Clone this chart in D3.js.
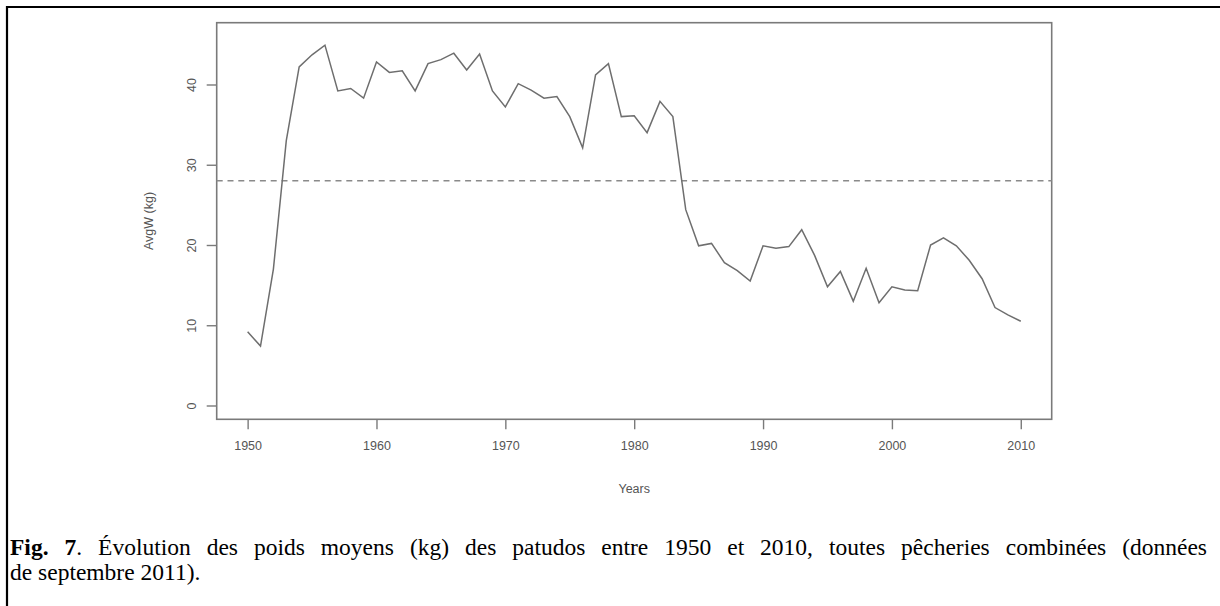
<!DOCTYPE html>
<html>
<head>
<meta charset="utf-8">
<script src="https://cdn.jsdelivr.net/npm/d3@7"></script>
<style>
  body { margin: 0; background: #fff; }
  svg { display: block; }
</style>
</head>
<body>
<div id="chart"></div>
<script>
let width = 1220, // page width
    height = 606; // page height

// plot box in pixels
const plotLeft = 216.7, plotRight = 1051.7,
      plotTop = 22.7, plotBottom = 419.3;

// data
const years = [1950, 1951, 1952, 1953, 1954, 1955, 1956, 1957, 1958, 1959,
               1960, 1961, 1962, 1963, 1964, 1965, 1966, 1967, 1968, 1969,
               1970, 1971, 1972, 1973, 1974, 1975, 1976, 1977, 1978, 1979,
               1980, 1981, 1982, 1983, 1984, 1985, 1986, 1987, 1988, 1989,
               1990, 1991, 1992, 1993, 1994, 1995, 1996, 1997, 1998, 1999,
               2000, 2001, 2002, 2003, 2004, 2005, 2006, 2007, 2008, 2009,
               2010];
const avgW = [9.2, 7.4, 17.0, 33.0, 42.2, 43.7, 44.9, 39.2, 39.5, 38.3,
              42.8, 41.5, 41.7, 39.2, 42.6, 43.1, 43.9, 41.8, 43.8, 39.2,
              37.2, 40.1, 39.3, 38.3, 38.5, 36.0, 32.1, 41.2, 42.6, 36.0,
              36.1, 34.0, 37.9, 36.0, 24.4, 19.9, 20.2, 17.8, 16.8, 15.5,
              19.9, 19.6, 19.8, 21.9, 18.7, 14.8, 16.7, 13.0, 17.1, 12.8,
              14.8, 14.4, 14.3, 20.0, 20.9, 19.9, 18.1, 15.8, 12.2, 11.3,
              10.5];
const meanLine = 28; // dashed reference level
const xTicks = [1950, 1960, 1970, 1980, 1990, 2000, 2010];
const yTicks = [0, 10, 20, 30, 40];
const xLabel = 'Years',
      yLabel = 'AvgW (kg)';
const captionBold = 'Fig. 7',
      captionLine1 = '. Évolution des poids moyens (kg) des patudos entre 1950 et 2010, toutes pêcheries combinées (données',
      captionLine2 = 'de septembre 2011).';

let svg = d3.select('#chart')
  .append('svg')
  .attr('width', width)
  .attr('height', height);

// frame around the figure (right and bottom are cut off)
svg.append('path')
  .attr('d', 'M7,' + height + 'V7H' + width)
  .attr('fill', 'none')
  .attr('stroke', '#000')
  .attr('stroke-width', 2.2);

let x = d3.scaleLinear()
  .domain([1947.6, 2012.4])
  .range([plotLeft, plotRight]);

let y = d3.scaleLinear()
  .domain([-1.72, 47.7])
  .range([plotBottom, plotTop]);

const axisColor = '#7a7a7a',
      textColor = '#555';

// x axis
let xAxis = svg.append('g')
  .attr('transform', 'translate(0,' + plotBottom + ')')
  .call(d3.axisBottom(x).tickValues(xTicks).tickFormat(d3.format('d')).tickSize(10).tickPadding(12));

// y axis
let yAxis = svg.append('g')
  .attr('transform', 'translate(' + plotLeft + ',0)')
  .call(d3.axisLeft(y).tickValues(yTicks).tickSize(10).tickPadding(0));

[xAxis, yAxis].forEach(function(g){
  g.select('.domain').remove();
  g.selectAll('line').attr('stroke', axisColor).attr('stroke-width', 1.4);
  g.selectAll('text')
    .attr('fill', textColor)
    .style('font-family', '"Liberation Sans", Arial, sans-serif')
    .style('font-size', '12.5px');
});

// rotate y labels like R's default
yAxis.selectAll('.tick text')
  .attr('x', null).attr('dy', null)
  .attr('text-anchor', 'middle')
  .attr('transform', 'translate(-25,0) rotate(-90)')
  .attr('dy', '0.35em');

// plot box
svg.append('rect')
  .attr('x', plotLeft)
  .attr('y', plotTop)
  .attr('width', plotRight - plotLeft)
  .attr('height', plotBottom - plotTop)
  .attr('fill', 'none')
  .attr('stroke', axisColor)
  .attr('stroke-width', 1.6);

// dashed reference line
svg.append('line')
  .attr('x1', plotLeft)
  .attr('x2', plotRight)
  .attr('y1', y(meanLine))
  .attr('y2', y(meanLine))
  .attr('stroke', '#8a8a8a')
  .attr('stroke-width', 1.5)
  .attr('stroke-dasharray', '6,4.8');

// the series
let line = d3.line()
  .x(function(d, i){ return x(years[i]); })
  .y(function(d){ return y(d); });

svg.append('path')
  .datum(avgW)
  .attr('d', line)
  .attr('fill', 'none')
  .attr('stroke', '#6e6e6e')
  .attr('stroke-width', 1.5)
  .attr('stroke-linejoin', 'miter');

// axis titles
svg.append('text')
  .attr('x', (plotLeft + plotRight) / 2)
  .attr('y', 493)
  .attr('text-anchor', 'middle')
  .attr('fill', textColor)
  .style('font-family', '"Liberation Sans", Arial, sans-serif')
  .style('font-size', '12.5px')
  .text(xLabel);

svg.append('text')
  .attr('transform', 'translate(153,' + (plotTop + plotBottom) / 2 + ') rotate(-90)')
  .attr('text-anchor', 'middle')
  .attr('fill', textColor)
  .style('font-family', '"Liberation Sans", Arial, sans-serif')
  .style('font-size', '12.5px')
  .text(yLabel);

// caption, first line justified with word spacing
let cap = svg.append('text')
  .attr('x', 10)
  .attr('y', 555)
  .style('font-family', '"Liberation Serif", "Times New Roman", serif')
  .style('font-size', '23.5px');
cap.append('tspan').style('font-weight', 'bold').text(captionBold);
cap.append('tspan').text(captionLine1);

let natural = cap.node().getComputedTextLength(),
    spaces = (captionBold + captionLine1).split(' ').length - 1;
if (natural < 1197) cap.style('word-spacing', ((1197 - natural) / spaces) + 'px');

svg.append('text')
  .attr('x', 10)
  .attr('y', 580)
  .style('font-family', '"Liberation Serif", "Times New Roman", serif')
  .style('font-size', '23.5px')
  .text(captionLine2);
</script>
</body>
</html>
